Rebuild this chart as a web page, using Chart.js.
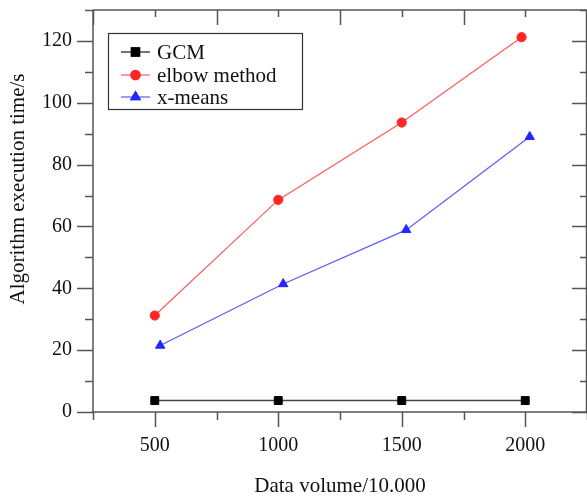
<!DOCTYPE html>
<html>
<head>
<meta charset="utf-8">
<script src="https://cdn.jsdelivr.net/npm/chart.js@4/dist/chart.umd.min.js"></script>
<style>
  html, body { margin: 0; padding: 0; background: #fff; }
  #wrap { width: 587px; height: 497px; }
</style>
</head>
<body>
<div id="wrap"><canvas id="chart"></canvas></div>
<script>
const seriesNames = ["GCM", "elbow method", "x-means"];
const gcmX = [500, 1000, 1500, 2000];
const gcmY = [3.7, 3.7, 3.7, 3.7];
const elbowX = [500, 1000, 1500, 1985];
const elbowY = [31.2, 68.6, 93.6, 121.2];
const xmeansX = [522, 1020, 1518, 2018];
const xmeansY = [21.5, 41.4, 58.9, 89.0];
const xTicks = [500, 1000, 1500, 2000];
const xMinorTicks = [250, 750, 1250, 1750, 2250];
const yTicks = [0, 20, 40, 60, 80, 100, 120];
const yMinorTicks = [10, 30, 50, 70, 90, 110, 130];
const xTitle = "Data volume/10.000";
const yTitle = "Algorithm execution time/s";

const serif = "'Liberation Serif', 'Times New Roman', serif";
const axisColor = "#555";

function points(xs, ys) {
  return xs.map((x, i) => ({ x, y: ys[i] }));
}

// frame, ticks on all four sides, y title and the boxed legend
const framePlugin = {
  id: "frame",
  afterDraw(chart) {
    const ctx = chart.ctx;
    const { left, right, top, bottom } = chart.chartArea;
    const xs = chart.scales.x;
    const ys = chart.scales.y;
    ctx.save();
    ctx.strokeStyle = axisColor;
    ctx.lineWidth = 1.5;
    ctx.beginPath();
    ctx.moveTo(left, top);
    ctx.lineTo(right, top);
    ctx.moveTo(right - 0.5, top);
    ctx.lineTo(right - 0.5, bottom);
    ctx.moveTo(left, top);
    ctx.lineTo(left, bottom);
    ctx.moveTo(left - 1, bottom);
    ctx.lineTo(right, bottom);
    // x ticks
    xTicks.forEach((v) => {
      const p = Math.round(xs.getPixelForValue(v)) + 0.5;
      ctx.moveTo(p, bottom); ctx.lineTo(p, bottom + 15);
      ctx.moveTo(p, top); ctx.lineTo(p, top + 7);
    });
    xMinorTicks.forEach((v) => {
      const p = Math.round(xs.getPixelForValue(v)) + 0.5;
      ctx.moveTo(p, bottom); ctx.lineTo(p, bottom + 8);
      ctx.moveTo(p, top); ctx.lineTo(p, top + 15);
    });
    // y ticks
    yTicks.forEach((v) => {
      const p = Math.round(ys.getPixelForValue(v)) + 0.5;
      ctx.moveTo(left, p); ctx.lineTo(left - 16, p);
      ctx.moveTo(right, p); ctx.lineTo(right - 15, p);
    });
    yMinorTicks.forEach((v) => {
      const p = Math.round(ys.getPixelForValue(v)) + 0.5;
      ctx.moveTo(left, p); ctx.lineTo(left - 8, p);
      ctx.moveTo(right, p); ctx.lineTo(right - 7, p);
    });
    ctx.stroke();

    // y title
    ctx.save();
    ctx.translate(18, 189);
    ctx.rotate(-Math.PI / 2);
    ctx.fillStyle = "#111";
    ctx.font = "21px " + serif;
    ctx.textAlign = "center";
    ctx.textBaseline = "middle";
    ctx.fillText(yTitle, 0, 0);
    ctx.restore();

    // legend
    ctx.lineWidth = 1.2;
    ctx.strokeStyle = "#333";
    ctx.strokeRect(108.5, 33.5, 194, 76);
    const rows = [52, 75, 97];
    chart.data.datasets.forEach((ds, i) => {
      const y = rows[i];
      ctx.strokeStyle = ds.borderColor;
      ctx.lineWidth = ds.borderWidth;
      ctx.beginPath();
      ctx.moveTo(121, y);
      ctx.lineTo(150, y);
      ctx.stroke();
      Chart.helpers.drawPoint(ctx, {
        pointStyle: ds.pointStyle,
        radius: ds.pointRadius,
        borderWidth: 1,
        rotation: 0
      }, 135.5, y);
      ctx.fillStyle = ds.pointBackgroundColor;
      ctx.strokeStyle = ds.pointBorderColor;
      ctx.fill();
      ctx.stroke();
      ctx.fillStyle = "#111";
      ctx.font = "21px " + serif;
      ctx.textBaseline = "middle";
      ctx.textAlign = "left";
      ctx.fillText(ds.label, 157, y + 1);
    });
    ctx.restore();
  }
};

new Chart(document.getElementById("chart"), {
  type: "line",
  data: {
    datasets: [
      {
        label: seriesNames[0],
        data: points(gcmX, gcmY),
        borderColor: "#444",
        borderWidth: 1.5,
        pointStyle: "rect",
        pointRadius: 5.6,
        pointBackgroundColor: "#000",
        pointBorderColor: "#000",
        pointBorderWidth: 1
      },
      {
        label: seriesNames[1],
        data: points(elbowX, elbowY),
        borderColor: "#ff5a5a",
        borderWidth: 1.2,
        pointStyle: "circle",
        pointRadius: 4.6,
        pointBackgroundColor: "#ff2626",
        pointBorderColor: "#ff2626",
        pointBorderWidth: 1
      },
      {
        label: seriesNames[2],
        data: points(xmeansX, xmeansY),
        borderColor: "#5a5aff",
        borderWidth: 1.2,
        pointStyle: "triangle",
        pointRadius: 5.4,
        pointBackgroundColor: "#2626ff",
        pointBorderColor: "#2626ff",
        pointBorderWidth: 1
      }
    ]
  },
  options: {
    responsive: true,
    maintainAspectRatio: false,
    animation: false,
    layout: { autoPadding: false, padding: { top: 10, right: 0, left: 0, bottom: 0 } },
    plugins: { legend: { display: false }, tooltip: { enabled: false } },
    scales: {
      x: {
        type: "linear",
        min: 250,
        max: 2250,
        afterBuildTicks: (s) => { s.ticks = xTicks.map((v) => ({ value: v })); },
        afterFit: (s) => { s.height = 85; s.paddingLeft = 0; s.paddingRight = 0; },
        grid: { display: false, drawTicks: false },
        border: { display: false },
        ticks: {
          color: "#111",
          font: { family: serif, size: 20 },
          padding: 22,
          maxRotation: 0,
          callback: (v) => String(v)
        },
        title: {
          display: true,
          text: xTitle,
          color: "#111",
          font: { family: serif, size: 21 },
          padding: { top: 0, bottom: -2 }
        }
      },
      y: {
        min: 0,
        max: 130,
        afterBuildTicks: (s) => { s.ticks = yTicks.map((v) => ({ value: v })); },
        afterFit: (s) => { s.width = 93; s.paddingTop = 0; s.paddingBottom = 0; },
        grid: { display: false, drawTicks: false },
        border: { display: false },
        ticks: {
          color: "#111",
          font: { family: serif, size: 20 },
          padding: 21
        },
        title: { display: false }
      }
    }
  },
  plugins: [framePlugin]
});
</script>
</body>
</html>
